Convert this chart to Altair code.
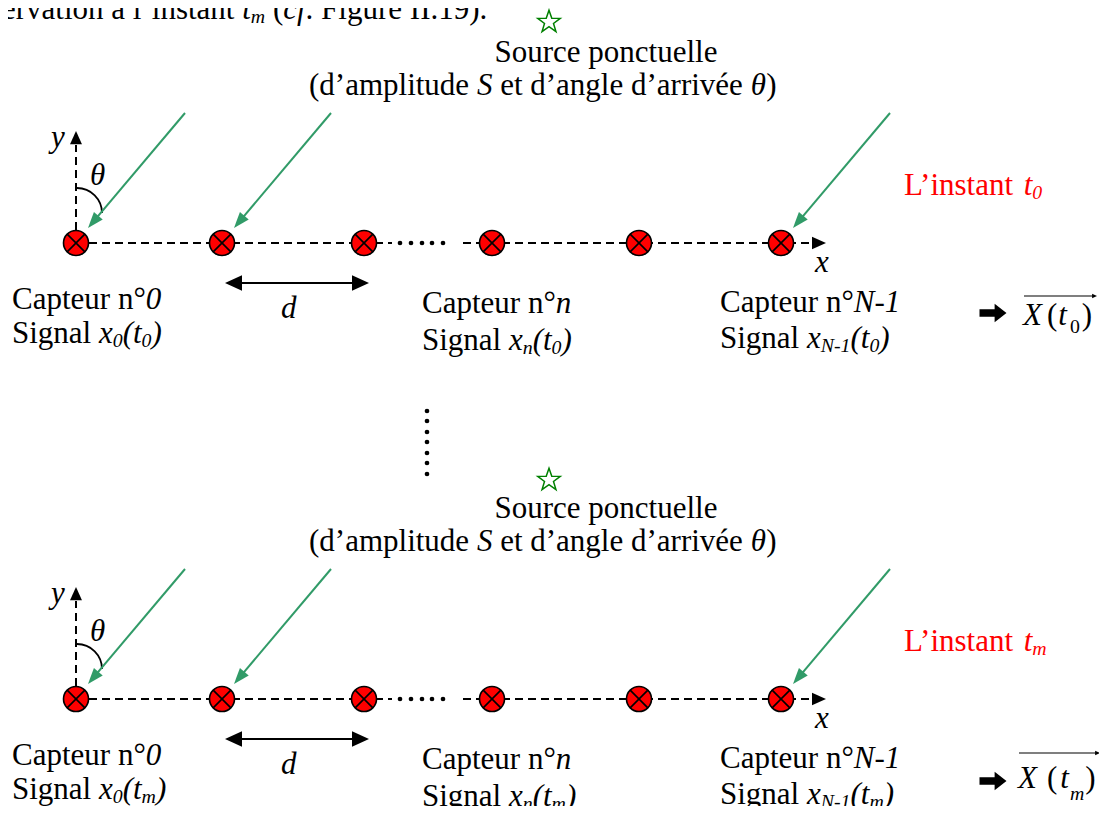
import math
import altair as alt
import pandas as pd

# ---------------- data ----------------
ROW_T = ["0", "m"]                        # time index of each row (t0 / tm)
ROW_AXIS_Y = [243, 699]                   # y of the sensor line in each row
SENSOR_X = [76, 222, 364, 492, 639, 781]  # sensors 0, 1, 2, n, ..., N-1
ARRIVAL_AT = [0, 1, 5]                    # sensors with a drawn incident ray
AXIS_SEGMENTS = [[76, 392], [463, 812]]
GAP_DOTS_X = [400, 411, 422, 432, 443]
ROW_GAP_DOTS_X = [427, 427, 427, 427, 427, 427, 427]
ROW_GAP_DOTS_Y = [411, 421, 432, 442, 453, 463, 474]
STAR_X = [549, 549]
STAR_Y = [22, 480]
VEC_X = [1023, 1018]
VEC_BASE = [325, 788]
VEC_ARROW_Y = [313, 781]
VEC_BAR_Y = [296, 753]
VEC_BAR_X2 = [1097, 1100]

FS = 31
SUB_SCALE = 0.64
SUB_SHIFT = 4
GREEN = "#319b68"
RED = "#ff0000"
FONT = "'Liberation Serif', 'Times New Roman', serif"

REG_W = {' ': 250, '(': 333, ')': 333, '’': 333, '-': 333, '°': 400, '.': 250,
         'A': 722, 'C': 667, 'F': 556, 'I': 333, 'L': 611, 'N': 722, 'S': 556, 'X': 722,
         'a': 444, 'c': 444, 'd': 500, 'e': 444, 'g': 500, 'i': 278, 'l': 278, 'm': 778,
         'n': 500, 'o': 500, 'p': 500, 'r': 333, 's': 389, 't': 278, 'u': 500, 'v': 500,
         'x': 500, 'y': 500, 'é': 444, 'à': 444, 'f': 333, 'θ': 500}
ITA_W = {'x': 444, 't': 278, 'n': 500, 'm': 722, 'N': 667, '-': 333, 'S': 500, 'd': 500,
         'y': 444, 'θ': 500, 'c': 444, 'f': 278, 'X': 611, '(': 333, ')': 333, '.': 250}


def text_width(s, italic, size):
    tab = ITA_W if italic else REG_W
    return sum(tab.get(c, REG_W.get(c, 500)) for c in s) * size / 1000.0


text_rows = []


def place(segs, x0, base, fs=FS, color="black", center=False):
    items = []
    x = 0.0
    for seg in segs:
        txt, st = seg[0], seg[1]
        gap = seg[2] if len(seg) > 2 else 0.0
        shift = seg[3] if len(seg) > 3 else None
        ital = "i" in st
        sub = "s" in st
        size = fs * SUB_SCALE if sub else fs
        if shift is None:
            shift = SUB_SHIFT if sub else 0
        x += gap
        lead = len(txt) - len(txt.lstrip(" "))
        shown = txt.strip(" ")
        items.append((x + text_width(" " * lead, ital, size), base + shift, shown, size, ital))
        x += text_width(txt, ital, size)
    start = x0 - x / 2 if center else x0
    for dx, y, txt, size, ital in items:
        if txt:
            text_rows.append(dict(x=start + dx, y=y, text=txt, size=size, color=color, italic=ital))


def heading(dx, dy):
    return (math.degrees(math.atan2(dx, -dy)) + 360) % 360


# top (cut) line of the page
place([("ervation à l’instant ", "r"), ("t", "i"), ("m", "is"), (" (", "r"), ("cf", "i"),
       (". Figure II.19).", "r")], 2, 19)

dash_rows, green_rows, black_rows, thin_rows = [], [], [], []
ghead_rows, bhead_rows = [], []
sensor_rows, dot_rows, arc_rows, star_rows, big_rows = [], [], [], [], []

for r, ay in enumerate(ROW_AXIS_Y):
    off = ay - 243
    tt = ROW_T[r]
    # texts
    place([("Source ponctuelle", "r")], 606, 62 + off, center=True)
    place([("(d’amplitude ", "r"), ("S", "i"), (" et d’angle d’arrivée ", "r"), ("θ", "i"), (")", "r")],
          309, 95 + off)
    place([("y", "i")], 51, 147 + off)
    place([("θ", "i")], 90, 185 + off)
    place([("x", "i")], 815, 272 + off)
    place([("d", "i")], 281, 318 + off)
    place([("Capteur n°", "r"), ("0", "i")], 12, 309 + off)
    place([("Signal ", "r"), ("x", "i"), ("0", "is"), ("(t", "i"), (tt, "is"), (")", "i")], 12, 343 + off)
    place([("Capteur n°", "r"), ("n", "i")], 422, 313 + off)
    place([("Signal ", "r"), ("x", "i"), ("n", "is"), ("(t", "i"), (tt, "is"), (")", "i")], 422, 350 + off)
    place([("Capteur n°", "r"), ("N-1", "i")], 720, 312 + off)
    place([("Signal ", "r"), ("x", "i"), ("N-1", "is"), ("(t", "i"), (tt, "is"), (")", "i")], 720, 348 + off)
    place([("L’instant ", "r"), ("t", "i"), (tt, "is")], 904, 195 + off, color=RED)
    if r == 0:
        vsegs = [("X", "i"), ("(", "r", 5), ("t", "i", 1), ("0", "rs", 3, 8), (")", "r", 2)]
    else:
        vsegs = [("X", "i"), ("(", "r", 10), ("t", "i", 3), ("m", "is", 1, 12), (")", "r", 1)]
    place(vsegs, VEC_X[r], VEC_BASE[r])

    # dashed axes
    for a, b in AXIS_SEGMENTS:
        dash_rows.append(dict(x=a, y=ay, x2=b, y2=ay))
    dash_rows.append(dict(x=SENSOR_X[0], y=ay, x2=SENSOR_X[0], y2=ay - 98))
    bhead_rows.append(dict(x=SENSOR_X[0], y=ay - 112, ang=0, size=44 * 4))
    bhead_rows.append(dict(x=826, y=ay, ang=90, size=49 * 4))
    for gx in GAP_DOTS_X:
        dot_rows.append(dict(x=gx, y=ay))

    # incident rays
    for si in ARRIVAL_AT:
        sx = SENSOR_X[si]
        x0, y0 = sx + 109, ay - 130
        tx, ty = sx + 12, ay - 15
        L = math.hypot(tx - x0, ty - y0)
        ux, uy = (tx - x0) / L, (ty - y0) / L
        green_rows.append(dict(x=x0, y=y0, x2=tx - 8 * ux, y2=ty - 8 * uy))
        ghead_rows.append(dict(x=tx, y=ty, ang=heading(tx - x0, ty - y0)))

    # spacing d
    black_rows.append(dict(x=229, y=ay + 40, x2=365, y2=ay + 40))
    bhead_rows.append(dict(x=225, y=ay + 40, ang=270, size=72 * 4))
    bhead_rows.append(dict(x=369, y=ay + 40, ang=90, size=72 * 4))

    # vector overline
    thin_rows.append(dict(x=VEC_X[r] + 1, y=VEC_BAR_Y[r], x2=VEC_BAR_X2[r] - 3, y2=VEC_BAR_Y[r]))
    bhead_rows.append(dict(x=VEC_BAR_X2[r], y=VEC_BAR_Y[r], ang=90, size=6 * 4))

    # heavy arrow
    big_rows.append(dict(x=993, y=VEC_ARROW_Y[r]))

    # sensors, angle arc, star
    for sx in SENSOR_X:
        sensor_rows.append(dict(x=sx, y=ay))
    arc_rows.append(dict(x=77, y=213 + off))
    star_rows.append(dict(x=STAR_X[r], y=STAR_Y[r]))

for vx, vy in zip(ROW_GAP_DOTS_X, ROW_GAP_DOTS_Y):
    dot_rows.append(dict(x=vx, y=vy))

# ---------------- chart ----------------
XS = alt.Scale(domain=[8, 1099], nice=False, zero=False)
YS = alt.Scale(domain=[8, 806], nice=False, zero=False, reverse=True)


def X(f="x"):
    return alt.X(f"{f}:Q", scale=XS, axis=None)


def Y(f="y"):
    return alt.Y(f"{f}:Q", scale=YS, axis=None)


def rules(rows, **kw):
    return alt.Chart(pd.DataFrame(rows)).mark_rule(**kw).encode(
        x=X(), y=Y(), x2=alt.X2("x2:Q"), y2=alt.Y2("y2:Q"))


HEAD_G = "M 0 0 L -0.72 2 L 0.72 2 Z"
HEAD_B = "M 0 0 L -0.9 2 L 0.9 2 Z"
XMARK = "M -0.707 -0.707 L 0.707 0.707 M -0.707 0.707 L 0.707 -0.707"
BIG_ARROW = "M -1 -0.28 L 0.12 -0.28 L 0.12 -0.68 L 1 0 L 0.12 0.68 L 0.12 0.28 L -1 0.28 Z"
pts = []
for k in range(10):
    a = math.radians(-90 + 36 * k)
    rr = 1.0 if k % 2 == 0 else 0.4
    pts.append(f"{rr * math.cos(a):.3f} {rr * math.sin(a):.3f}")
STAR = "M " + " L ".join(pts) + " Z"

layers = [
    rules(dash_rows, color="black", strokeWidth=2, strokeDash=[8, 5]),
    alt.Chart(pd.DataFrame(dot_rows)).mark_circle(size=22, color="black", opacity=1).encode(x=X(), y=Y()),
    alt.Chart(pd.DataFrame(arc_rows)).mark_arc(
        innerRadius=25, outerRadius=25, theta=0, theta2=math.pi / 2,
        stroke="black", strokeWidth=1.8, fillOpacity=0).encode(x=X(), y=Y()),
    alt.Chart(pd.DataFrame(sensor_rows)).mark_point(
        shape="circle", size=625, filled=True, color=RED, stroke="black", strokeWidth=1.6, opacity=1
    ).encode(x=X(), y=Y()),
    alt.Chart(pd.DataFrame(sensor_rows)).mark_point(
        shape=XMARK, size=625, filled=False, color="black", strokeWidth=1.6, opacity=1
    ).encode(x=X(), y=Y()),
    rules(green_rows, color=GREEN, strokeWidth=2),
    alt.Chart(pd.DataFrame(ghead_rows)).mark_point(
        shape=HEAD_G, size=256, filled=True, color=GREEN, strokeWidth=0, opacity=1
    ).encode(x=X(), y=Y(), angle=alt.Angle("ang:Q", scale=None)),
    rules(black_rows, color="black", strokeWidth=2),
    rules(thin_rows, color="black", strokeWidth=1.2),
    alt.Chart(pd.DataFrame(bhead_rows)).mark_point(
        shape=HEAD_B, filled=True, color="black", strokeWidth=0, opacity=1
    ).encode(x=X(), y=Y(), angle=alt.Angle("ang:Q", scale=None), size=alt.Size("size:Q", scale=None)),
    alt.Chart(pd.DataFrame(big_rows)).mark_point(
        shape=BIG_ARROW, size=729, filled=True, color="black", strokeWidth=0, opacity=1
    ).encode(x=X(), y=Y()),
    alt.Chart(pd.DataFrame(star_rows)).mark_point(
        shape=STAR, size=560, filled=False, color="#008000", strokeWidth=1.5, opacity=1
    ).encode(x=X(), y=Y()),
]

tdf = pd.DataFrame(text_rows)
for ital in (False, True):
    sub = tdf[tdf["italic"] == ital]
    kw = dict(align="left", baseline="alphabetic", font=FONT)
    if ital:
        kw["fontStyle"] = "italic"
    layers.append(
        alt.Chart(sub).mark_text(**kw).encode(
            x=X(), y=Y(), text=alt.Text("text:N"),
            size=alt.Size("size:Q", scale=None), color=alt.Color("color:N", scale=None))
    )

chart = alt.layer(*layers).properties(
    width=1091, height=798, padding=0, autosize=alt.AutoSizeParams(type="none")
).configure_view(stroke=None)

chart.save("out.html", embed_options={"renderer": "svg", "actions": False})
